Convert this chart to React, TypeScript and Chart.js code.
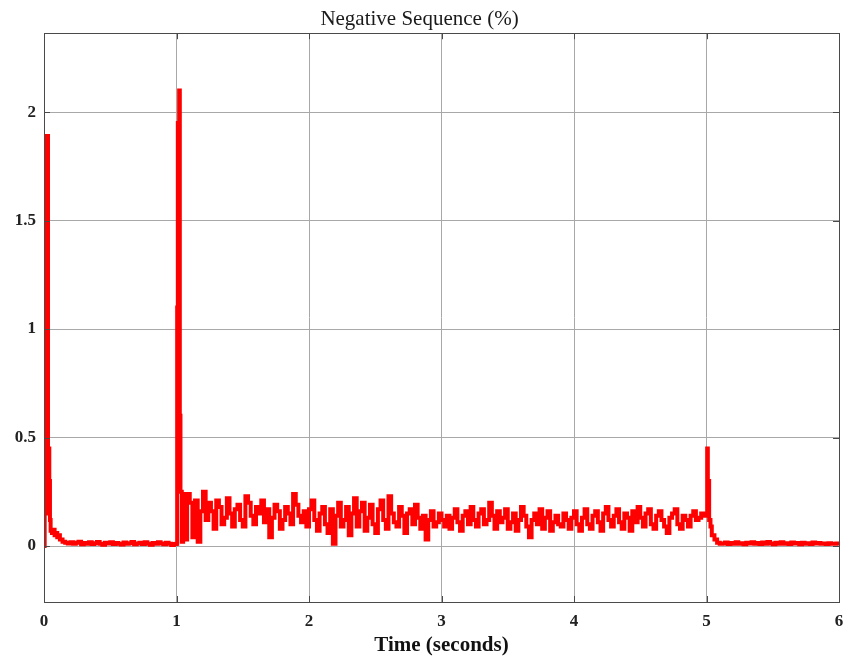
import React, { useEffect, useRef } from "react";
import { Chart, registerables } from "chart.js";

Chart.register(...registerables);

// ---- Data (time in seconds, negative sequence in %) ----
const startupTimes = [0, 0.005, 0.012, 0.025, 0.03, 0.035, 0.04, 0.045, 0.05, 0.06, 0.07, 0.08, 0.09, 0.1, 0.11, 0.12, 0.14, 0.16];
const startupValues = [0, 1.73, 1.89, 1.89, 0.15, 0.45, 0.3, 0.12, 0.07, 0.06, 0.075, 0.05, 0.06, 0.04, 0.05, 0.03, 0.02, 0.015];

const quietBeforeStart = 0.18;
const quietBeforeValues = [
  0.012, 0.018, 0.01, 0.015, 0.02, 0.008, 0.014, 0.011, 0.017, 0.009,
  0.013, 0.019, 0.01, 0.006, 0.015, 0.012, 0.018, 0.009, 0.014, 0.011,
  0.007, 0.016, 0.01, 0.013, 0.019, 0.008, 0.012, 0.015, 0.009, 0.017,
  0.011, 0.006, 0.014, 0.01, 0.018, 0.012, 0.008, 0.015, 0.011, 0.005,
  0.009,
];

const faultTimes = [1.0, 1.005, 1.01, 1.02, 1.025, 1.03, 1.04, 1.05];
const faultValues = [0.01, 1.1, 1.95, 2.1, 0.6, 0.25, 0.02, 0.24];

const unbalancedStart = 1.06;
const unbalancedValues = [
  0.03, 0.24, 0.2, 0.04, 0.21, 0.02, 0.16, 0.25, 0.12, 0.2,
  0.16, 0.08, 0.21, 0.18, 0.1, 0.13, 0.22, 0.15, 0.09, 0.17,
  0.19, 0.12, 0.09, 0.23, 0.2, 0.14, 0.1, 0.18, 0.15, 0.21,
  0.11, 0.17, 0.04, 0.13, 0.19, 0.16, 0.08, 0.12, 0.18, 0.15,
  0.1, 0.24, 0.19, 0.14, 0.11, 0.16, 0.09, 0.17, 0.21, 0.12,
  0.07, 0.15, 0.18, 0.1, 0.06, 0.17, 0.01, 0.14, 0.2, 0.09,
  0.12, 0.18, 0.05, 0.15, 0.22, 0.09, 0.16, 0.2, 0.07, 0.13,
  0.19, 0.1, 0.06, 0.17, 0.21, 0.12, 0.08, 0.23, 0.15, 0.11,
  0.09, 0.18, 0.14, 0.06, 0.15, 0.17, 0.1, 0.19, 0.13, 0.08,
  0.14, 0.03, 0.12, 0.16, 0.09, 0.11, 0.15, 0.12, 0.09, 0.14,
  0.08, 0.13, 0.17, 0.11, 0.07, 0.14, 0.16, 0.1, 0.18, 0.12,
  0.09, 0.15, 0.17, 0.1, 0.12, 0.2, 0.14, 0.08, 0.16, 0.11,
  0.13, 0.17, 0.08, 0.11, 0.15, 0.07, 0.12, 0.18, 0.14, 0.09,
  0.04, 0.12, 0.15, 0.1, 0.17, 0.08, 0.13, 0.16, 0.07, 0.11,
  0.14, 0.1, 0.09, 0.15, 0.12, 0.08, 0.13, 0.16, 0.1, 0.07,
  0.13, 0.17, 0.1, 0.08, 0.14, 0.16, 0.11, 0.07, 0.15, 0.18,
  0.12, 0.09, 0.14, 0.17, 0.11, 0.08, 0.15, 0.13, 0.07, 0.16,
  0.11, 0.18, 0.13, 0.09, 0.15, 0.17, 0.1, 0.08, 0.14, 0.16,
  0.12, 0.09, 0.06, 0.13, 0.15, 0.17, 0.1, 0.08, 0.14, 0.12,
  0.09, 0.14, 0.16, 0.12, 0.13, 0.15, 0.14,
];

const clearTimes = [5.0, 5.005, 5.01, 5.02, 5.03, 5.04, 5.06, 5.08, 5.1];
const clearValues = [0.15, 0.45, 0.3, 0.12, 0.09, 0.05, 0.03, 0.015, 0.01];

const quietAfterStart = 5.12;
const quietAfterValues = [
  0.012, 0.016, 0.009, 0.014, 0.011, 0.018, 0.01, 0.013, 0.008, 0.015,
  0.012, 0.017, 0.01, 0.014, 0.009, 0.016, 0.011, 0.019, 0.012, 0.008,
  0.015, 0.011, 0.017, 0.01, 0.013, 0.009, 0.016, 0.012, 0.014, 0.008,
  0.015, 0.011, 0.013, 0.009, 0.016, 0.012, 0.014, 0.01, 0.012, 0.009,
  0.013, 0.011, 0.01, 0.012, 0.008,
];

const sampleStep = 0.02;
const xTickValues = [0, 1, 2, 3, 4, 5, 6];
const yTickValues = [0, 0.5, 1, 1.5, 2];
const yTickLabels = ["0", "0.5", "1", "1.5", "2"];

const explicitPoints = (ts: number[], vs: number[]) => ts.map((t, i) => ({ x: t, y: vs[i] }));
const uniformPoints = (start: number, vs: number[]) =>
  vs.map((v, i) => ({ x: Math.round((start + i * sampleStep) * 1000) / 1000, y: v }));

const seriesPoints = [
  ...explicitPoints(startupTimes, startupValues),
  ...uniformPoints(quietBeforeStart, quietBeforeValues),
  ...explicitPoints(faultTimes, faultValues),
  ...uniformPoints(unbalancedStart, unbalancedValues),
  ...explicitPoints(clearTimes, clearValues),
  ...uniformPoints(quietAfterStart, quietAfterValues),
];

const FONT = "'Liberation Serif', 'Times New Roman', serif";

const framePlugin = {
  id: "matlabFrame",
  afterDatasetsDraw(chart: any) {
    const { ctx, chartArea } = chart;
    const { left, right, top, bottom } = chartArea;
    const xs = chart.scales.x;
    const ys = chart.scales.y;
    ctx.save();
    ctx.strokeStyle = "#4a4a4a";
    ctx.lineWidth = 1;
    ctx.beginPath();
    xTickValues.forEach((v) => {
      const px = Math.round(xs.getPixelForValue(v)) + 0.5;
      ctx.moveTo(px, bottom);
      ctx.lineTo(px, bottom - 6);
      ctx.moveTo(px, top);
      ctx.lineTo(px, top + 6);
    });
    yTickValues.forEach((v) => {
      const py = Math.round(ys.getPixelForValue(v)) + 0.5;
      ctx.moveTo(left, py);
      ctx.lineTo(left + 6, py);
      ctx.moveTo(right, py);
      ctx.lineTo(right - 6, py);
    });
    ctx.stroke();
    ctx.strokeRect(Math.round(left) + 0.5, Math.round(top) + 0.5, Math.round(right - left), Math.round(bottom - top));
    ctx.restore();
  },
};

export default function App() {
  const canvasRef = useRef<HTMLCanvasElement | null>(null);

  useEffect(() => {
    document.body.style.margin = "0";
    const canvas = canvasRef.current;
    if (!canvas) return;
    const chart = new Chart(canvas, {
      type: "line",
      data: {
        datasets: [
          {
            label: "Negative Sequence (%)",
            data: seriesPoints,
            borderColor: "#ff0000",
            backgroundColor: "#ff0000",
            borderWidth: 4,
            pointRadius: 0,
            tension: 0,
            stepped: true,
            fill: false,
          },
        ],
      },
      options: {
        responsive: false,
        animation: false,
        devicePixelRatio: 1,
        parsing: false,
        normalized: true,
        layout: { padding: { top: 0, right: 5, bottom: 0, left: 0 } },
        plugins: {
          legend: { display: false },
          tooltip: { enabled: false },
          title: {
            display: true,
            text: "Negative Sequence (%)",
            color: "#1a1a1a",
            font: { family: FONT, size: 21, weight: "normal", lineHeight: 1.2 },
            padding: { top: 7, bottom: 1 },
          },
        },
        scales: {
          x: {
            type: "linear",
            min: 0,
            max: 6,
            afterBuildTicks: (scale: any) => {
              scale.ticks = xTickValues.map((v) => ({ value: v }));
            },
            afterFit: (scale: any) => {
              scale.height = 55;
              scale.paddingLeft = 0;
              scale.paddingRight = 0;
            },
            ticks: {
              color: "#222",
              font: { family: FONT, size: 17, weight: "bold" },
              padding: 9,
              maxRotation: 0,
              callback: (v: any) => String(v),
            },
            grid: { color: "#a8a8a8", lineWidth: 1, drawTicks: false },
            border: { display: true, color: "#4a4a4a" },
            title: {
              display: true,
              text: "Time (seconds)",
              color: "#111",
              font: { family: FONT, size: 21, weight: "bold", lineHeight: 1.1 },
              padding: { top: 0, bottom: 0 },
            },
          },
          y: {
            type: "linear",
            min: -0.258,
            max: 2.364,
            afterBuildTicks: (scale: any) => {
              scale.ticks = yTickValues.map((v) => ({ value: v }));
            },
            afterFit: (scale: any) => {
              scale.width = 44;
              scale.paddingTop = 0;
              scale.paddingBottom = 0;
            },
            ticks: {
              color: "#222",
              font: { family: FONT, size: 17, weight: "bold" },
              padding: 8,
              callback: (v: any) => {
                const idx = yTickValues.indexOf(Number(v));
                return idx >= 0 ? yTickLabels[idx] : "";
              },
            },
            grid: { color: "#a8a8a8", lineWidth: 1, drawTicks: false },
            border: { display: true, color: "#4a4a4a" },
          },
        },
      },
      plugins: [framePlugin],
    });
    return () => chart.destroy();
  }, []);

  return (
    <div style={{ position: "absolute", left: 0, top: 0, width: 844, height: 657, background: "#fff" }}>
      <canvas ref={canvasRef} width={844} height={657} style={{ display: "block" }} />
    </div>
  );
}
